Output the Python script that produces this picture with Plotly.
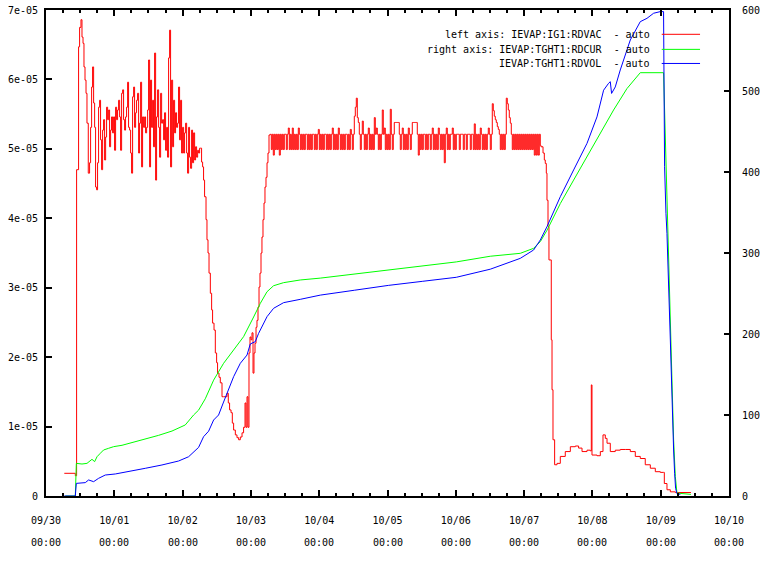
import plotly.graph_objects as go

# ---------------- data ----------------
DAY_LABELS = ["09/30", "10/01", "10/02", "10/03", "10/04", "10/05",
              "10/06", "10/07", "10/08", "10/09", "10/10"]
DAY_POS = [0, 1, 2, 3, 4, 5, 6, 7, 8, 9, 10]
TIME_LABEL = "00:00"
LEFT_TICKS = [0, 1e-05, 2e-05, 3e-05, 4e-05, 5e-05, 6e-05, 7e-05]
LEFT_TICK_TEXT = ["0", "1e-05", "2e-05", "3e-05", "4e-05", "5e-05", "6e-05", "7e-05"]
RIGHT_TICKS = [0, 100, 200, 300, 400, 500, 600]
RIGHT_TICK_TEXT = ["0", "100", "200", "300", "400", "500", "600"]

SERIES_NAMES = ["left axis: IEVAP:IG1:RDVAC", "right axis: IEVAP:TGHT1:RDCUR",
                "IEVAP:TGHT1:RDVOL"]
SUFFIX = "  - auto"

# RDVAC (units of 1e-05), time in days since 09/30 00:00
red_days_a = [0.268, 0.429, 0.448, 0.477, 0.492, 0.512, 0.527, 0.542, 0.556, 0.571,
              0.586, 0.600, 0.619, 0.638, 0.653, 0.668, 0.682, 0.697, 0.712, 0.726,
              0.741, 0.755, 0.770, 0.785, 0.799, 0.814, 0.829, 0.843, 0.858, 0.873,
              0.887, 0.902, 0.917, 0.931, 0.946, 0.960, 0.975, 0.990, 1.004, 1.019,
              1.034, 1.048, 1.063, 1.078, 1.092, 1.107, 1.122, 1.136, 1.151, 1.165,
              1.180, 1.195, 1.209, 1.224, 1.239, 1.253, 1.268, 1.283, 1.297, 1.312,
              1.326, 1.341, 1.356, 1.370, 1.385, 1.400, 1.414, 1.429, 1.444, 1.458,
              1.473, 1.488, 1.502, 1.517, 1.531, 1.546, 1.561, 1.575, 1.590, 1.605,
              1.619, 1.634, 1.649, 1.663, 1.678, 1.693, 1.707, 1.722, 1.736, 1.751,
              1.766, 1.780, 1.795, 1.810, 1.824, 1.839, 1.854, 1.868, 1.883, 1.897,
              1.912, 1.927, 1.941, 1.956, 1.971, 1.985, 2.000, 2.015, 2.029, 2.044,
              2.059, 2.073, 2.088, 2.102, 2.117, 2.132, 2.146, 2.161, 2.176, 2.190,
              2.205, 2.220, 2.234, 2.249, 2.264, 2.278, 2.293, 2.307, 2.322, 2.343,
              2.357, 2.372, 2.387, 2.406, 2.425, 2.439, 2.460, 2.479, 2.498, 2.512,
              2.533, 2.552, 2.577, 2.600, 2.625, 2.650, 2.669, 2.688, 2.709, 2.728,
              2.747, 2.772, 2.796, 2.820, 2.845, 2.870, 2.893, 2.914, 2.928, 2.943,
              2.957, 2.972, 2.987, 3.001, 3.016, 3.031, 3.045, 3.060, 3.075, 3.089,
              3.104, 3.119, 3.133, 3.148, 3.162, 3.177, 3.192, 3.206, 3.221, 3.236,
              3.250, 3.265]
red_vals_a = [0.327, 0.292, 4.70, 6.47, 6.75, 6.86, 6.61, 6.52, 6.18, 5.99,
              5.80, 5.37, 4.65, 4.80, 5.31, 5.89, 6.18, 5.66, 5.31, 4.45,
              4.41, 4.80, 5.60, 5.70, 5.13, 4.70, 5.27, 5.42, 4.84, 5.17,
              5.60, 5.42, 5.56, 5.03, 5.27, 5.46, 5.23, 5.46, 4.98, 5.60,
              5.42, 5.56, 5.70, 5.46, 4.98, 5.80, 5.85, 5.42, 5.27, 5.46,
              5.60, 5.96, 5.31, 5.27, 4.94, 4.65, 5.75, 5.89, 5.31, 5.52,
              5.70, 5.80, 4.94, 5.37, 5.96, 4.74, 5.46, 5.31, 5.46, 5.23,
              5.31, 5.56, 6.28, 4.74, 5.99, 5.31, 5.70, 5.03, 6.38, 4.55,
              5.46, 5.85, 5.31, 4.88, 5.80, 5.37, 5.42, 5.13, 5.52, 4.98,
              5.31, 4.88, 6.31, 6.71, 4.74, 5.99, 5.03, 5.70, 5.23, 5.52,
              5.31, 5.37, 5.89, 5.13, 5.70, 4.94, 5.31, 4.94, 5.23, 5.37,
              4.94, 4.65, 5.31, 4.88, 4.72, 5.27, 4.80, 5.23, 4.84, 5.03,
              4.88, 4.98, 4.94, 5.01, 5.01, 4.81, 4.74, 4.55, 4.31, 3.98,
              3.69, 3.50, 3.21, 2.92, 2.68, 2.49, 2.39, 2.06, 1.92, 1.77,
              1.71, 1.63, 1.43, 1.43, 1.43, 1.48, 1.34, 1.24, 1.20, 1.05,
              0.95, 0.88, 0.84, 0.81, 0.85, 0.91, 0.99, 1.34, 0.99, 1.43,
              0.99, 2.06, 2.29, 2.25, 2.35, 1.77, 2.06, 2.20, 2.43, 2.53,
              2.72, 3.01, 3.21, 3.50, 3.73, 3.98, 4.22, 4.45, 4.59, 4.80,
              4.94, 5.20]

# plateau: regularly sampled archive data (start day, sample period in days)
PLATEAU_START = 3.284
PLATEAU_PERIOD = 0.014641
red_vals_b = [
    5.21, 4.99, 5.21, 4.91, 5.21, 4.99, 5.21, 4.99, 5.21, 4.91,
    5.21, 4.99, 5.21, 4.99, 5.21, 5.21, 4.99, 5.21, 5.30, 4.99,
    5.21, 4.99, 5.30, 4.99, 5.21, 4.99, 5.21, 4.99, 5.30, 5.21,
    4.99, 5.21, 4.99, 5.21, 4.99, 5.21, 5.21, 4.99, 5.21, 4.99,
    5.21, 4.99, 5.21, 5.21, 4.99, 5.21, 4.99, 5.21, 5.28, 4.99,
    5.21, 4.99, 5.21, 4.99, 5.21, 5.21, 4.99, 5.21, 4.99, 5.21,
    4.99, 5.21, 5.30, 4.99, 5.21, 4.99, 5.21, 4.99, 5.30, 5.21,
    4.99, 5.21, 4.99, 5.21, 4.99, 5.21, 5.21, 4.99, 5.21, 4.99,
    5.28, 5.21, 4.99, 5.21, 5.47, 5.60, 5.73, 5.45, 5.38, 5.21,
    4.99, 5.21, 5.40, 5.21, 4.99, 5.21, 4.99, 5.21, 5.30, 4.99,
    5.21, 4.99, 5.21, 4.99, 5.45, 5.21, 5.30, 5.21, 4.99, 5.21,
    4.99, 5.21, 5.56, 5.21, 5.30, 4.99, 5.21, 4.99, 5.21, 4.99,
    5.57, 5.21, 4.99, 5.21, 5.38, 5.38, 5.38, 5.38, 5.38, 5.21,
    4.99, 5.21, 5.30, 4.99, 5.21, 4.99, 5.21, 4.99, 5.30, 5.21,
    4.99, 5.21, 5.38, 5.38, 5.38, 5.38, 5.38, 5.21, 4.91, 5.21,
    4.99, 5.21, 4.99, 5.21, 5.21, 4.99, 5.21, 4.99, 5.21, 5.21,
    4.99, 5.21, 5.30, 4.99, 5.21, 4.99, 5.21, 4.99, 5.30, 5.21,
    4.99, 5.21, 4.99, 5.21, 4.80, 5.21, 5.30, 4.99, 5.21, 4.99,
    5.21, 5.21, 5.30, 4.99, 5.21, 4.99, 5.21, 5.21, 5.21, 4.99,
    5.21, 5.21, 5.21, 4.99, 5.21, 5.21, 4.99, 5.21, 5.21, 5.21,
    4.99, 5.21, 5.21, 4.99, 5.36, 4.99, 5.21, 4.99, 5.21, 4.99,
    5.30, 5.21, 4.99, 5.21, 4.99, 5.21, 4.99, 5.21, 5.30, 5.21,
    4.99, 5.21, 5.65, 5.55, 5.47, 5.42, 5.38, 5.32, 5.28, 5.21,
    4.99, 5.21, 4.99, 5.21, 4.99, 5.21, 5.73, 5.65, 5.56, 5.45,
    5.37, 5.21, 4.99, 5.21, 4.99, 5.21, 4.99, 5.21, 4.99, 5.21,
    4.99, 5.21, 4.99, 5.21, 4.99, 5.21, 4.99, 5.21, 4.99, 5.21,
    4.99, 5.21, 4.99, 5.21, 4.91, 5.21, 4.91, 5.21, 4.91, 5.21,
    5.05]

red_days_c = [7.247, 7.277, 7.296, 7.310, 7.325, 7.335, 7.350, 7.364, 7.398, 7.409,
              7.423, 7.447, 7.482, 7.530, 7.603, 7.677, 7.750, 7.798, 7.848, 7.921,
              7.969, 7.984, 7.994, 8.067, 8.116, 8.155, 8.189, 8.214, 8.262, 8.335,
              8.408, 8.481, 8.555, 8.628, 8.701, 8.774, 8.848, 8.921, 8.994, 9.042,
              9.053, 9.092, 9.141, 9.214, 9.443]
red_vals_c = [5.03, 4.94, 4.84, 4.79, 4.65, 4.26, 3.88, 3.40, 2.25, 1.53,
              0.81, 0.45, 0.47, 0.57, 0.64, 0.71, 0.72, 0.69, 0.64, 0.66,
              0.65, 1.60, 0.59, 0.58, 0.64, 0.88, 0.83, 0.76, 0.64, 0.66,
              0.67, 0.67, 0.64, 0.57, 0.54, 0.45, 0.40, 0.35, 0.34, 0.34,
              0.18, 0.09, 0.06, 0.05, 0.05]
RDVAC_SCALE = 1e-05

# RDCUR (right axis)
green_days = [0.283, 0.429, 0.444, 0.527, 0.600, 0.649, 0.673, 0.712, 0.747, 0.795,
              0.843, 0.917, 0.990, 1.113, 1.259, 1.454, 1.649, 1.845, 2.039, 2.161,
              2.234, 2.332, 2.454, 2.600, 2.747, 2.893, 3.040, 3.138, 3.236, 3.332,
              3.479, 3.723, 4.016, 4.514, 5.012, 5.509, 6.007, 6.505, 6.944, 7.139,
              7.237, 7.335, 7.530, 7.725, 7.921, 8.116, 8.310, 8.506, 8.701, 9.042,
              9.053, 9.057, 9.067, 9.077, 9.092, 9.107, 9.116, 9.165, 9.189, 9.214,
              9.238, 9.443]
green_vals = [0, 0, 40.3, 39.5, 40.3, 44.4, 45.3, 42.4, 48.5, 52.7,
              56.8, 58.9, 60.9, 62.6, 65.8, 70.0, 74.9, 80.2, 87.7, 100,
              106, 120, 143, 163.8, 180, 196.7, 221, 237.9, 252.2, 259.6,
              263.4, 266.7, 269, 274, 279, 284, 289, 296, 299.6, 305.8,
              314, 328, 361, 390, 419, 448, 476.5, 503, 522.6, 522.6,
              489, 468, 439, 415, 357, 316, 291, 151, 69, 24,
              3.6, 2]

# RDVOL (right axis)
blue_days = [0.268, 0.429, 0.444, 0.575, 0.624, 0.697, 0.770, 0.868, 1.015, 1.209,
             1.454, 1.698, 1.941, 2.088, 2.186, 2.234, 2.307, 2.381, 2.454, 2.527,
             2.600, 2.747, 2.845, 2.943, 2.991, 3.064, 3.113, 3.236, 3.332, 3.479,
             3.723, 4.016, 4.514, 5.012, 5.509, 6.007, 6.505, 6.944, 7.139, 7.237,
             7.335, 7.530, 7.725, 7.921, 8.067, 8.164, 8.237, 8.262, 8.281, 8.335,
             8.408, 8.555, 8.701, 8.799, 8.896, 8.994, 9.042, 9.045, 9.057, 9.077,
             9.092, 9.141, 9.165, 9.189, 9.204, 9.218, 9.238, 9.287]
blue_vals = [0, 0, 15.6, 16.5, 19.8, 17.7, 21.8, 25.9, 27.2, 30,
             34.2, 38.3, 43.2, 48.5, 56.8, 60, 73.2, 80, 93.8, 100,
             116, 147.3, 163.8, 174, 187.7, 190.5, 200.8, 221.4, 231.7, 238.7,
             242.8, 248, 254, 260, 265, 270, 280, 293.4, 303.7, 316,
             332.5, 369.5, 402.5, 435.4, 468, 501, 509.5, 511.5, 497, 505,
             526, 563, 585.6, 589.7, 596, 598, 598, 489, 406.5, 349,
             324, 192.6, 110, 56.8, 28, 9.5, 3, 2]

RED = "#ff0000"
GREEN = "#00ff00"
BLUE = "#0000ff"
FONT = "DejaVu Sans Mono"

# ---------------- figure ----------------
red_days_b = [PLATEAU_START + PLATEAU_PERIOD * i for i in range(len(red_vals_b))]
red_days = red_days_a + red_days_b + red_days_c
red_vals = [v * RDVAC_SCALE for v in red_vals_a + red_vals_b + red_vals_c]

fig = go.Figure()
fig.add_trace(go.Scatter(x=red_days, y=red_vals, mode="lines", yaxis="y",
                         line=dict(color=RED, width=1, shape="hv"), showlegend=False))
fig.add_trace(go.Scatter(x=green_days, y=green_vals, mode="lines", yaxis="y2",
                         line=dict(color=GREEN, width=1), showlegend=False))
fig.add_trace(go.Scatter(x=blue_days, y=blue_vals, mode="lines", yaxis="y2",
                         line=dict(color=BLUE, width=1), showlegend=False))

# legend (manual, gnuplot style: right-aligned text with sample to the right)
leg_y = [0.950, 0.919, 0.890]
colors = [RED, GREEN, BLUE]
for name, yy, col in zip(SERIES_NAMES, leg_y, colors):
    txt = (name + SUFFIX).replace(" ", "\u00a0")
    fig.add_annotation(x=0.8873, y=yy, xref="paper", yref="paper", text=txt,
                       showarrow=False, xanchor="right", yanchor="middle",
                       font=dict(family=FONT, size=10, color="black"))
    fig.add_shape(type="line", xref="paper", yref="paper", x0=0.9015, x1=0.9576,
                  y0=yy, y1=yy, line=dict(color=col, width=1))

# second row of x tick labels
for p in DAY_POS:
    fig.add_annotation(x=p, y=-0.0947, xref="x", yref="paper", text=TIME_LABEL,
                       showarrow=False, xanchor="center", yanchor="middle",
                       font=dict(family=FONT, size=10, color="black"))

fig.update_layout(
    width=779, height=567,
    margin=dict(l=46, r=50, t=10, b=71),
    paper_bgcolor="white", plot_bgcolor="white",
    font=dict(family=FONT, size=10, color="black"),
    showlegend=False,
    xaxis=dict(range=[0, 10], tickvals=DAY_POS, ticktext=DAY_LABELS,
               ticks="inside", ticklen=6, tickwidth=2, tickcolor="black",
               showline=True, linewidth=2, linecolor="black", mirror="ticks",
               showgrid=False, zeroline=False, ticklabelstandoff=14,
               automargin=False,
               minor=dict(dtick=0.25, ticks="inside", ticklen=3, tickwidth=2,
                          tickcolor="black", showgrid=False)),
    yaxis=dict(range=[0, 7e-05], tickvals=LEFT_TICKS, ticktext=LEFT_TICK_TEXT,
               ticks="inside", ticklen=6, tickwidth=2, tickcolor="black",
               showline=True, linewidth=2, linecolor="black", mirror=True,
               showgrid=False, zeroline=False, ticklabelstandoff=4,
               automargin=False),
    yaxis2=dict(range=[0, 600], tickvals=RIGHT_TICKS, ticktext=RIGHT_TICK_TEXT,
                overlaying="y", side="right",
                ticks="inside", ticklen=5, tickwidth=2, tickcolor="black",
                showline=True, linewidth=2, linecolor="black",
                showgrid=False, zeroline=False, ticklabelstandoff=9,
                automargin=False),
)

fig.write_html("out.html", config={"displayModeBar": False},
               post_script="document.body.style.margin='0';"
                           "document.body.style.overflow='hidden';")
